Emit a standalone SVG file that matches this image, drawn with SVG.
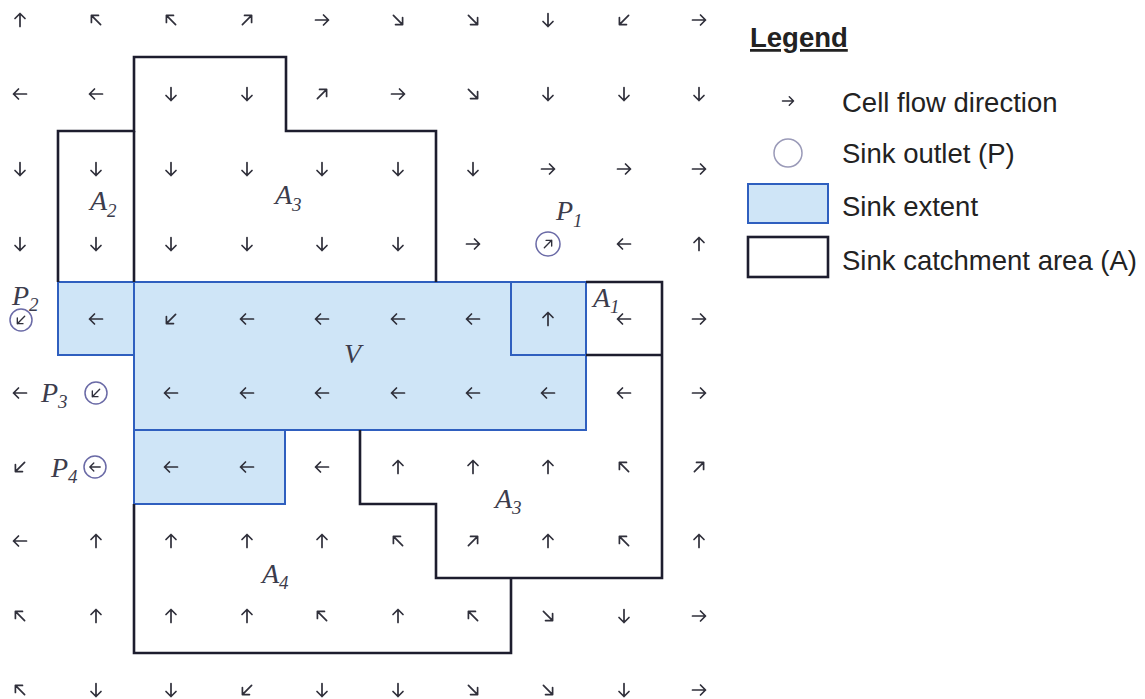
<svg xmlns="http://www.w3.org/2000/svg" width="1145" height="699" viewBox="0 0 1145 699">
<defs>
<style>
.ar{fill:none;stroke:#2f2f3a;stroke-width:1.7;stroke-linecap:round;stroke-linejoin:round}
.sink{fill:#cfe5f7;stroke:#2f5fbf;stroke-width:2}
.ca{fill:none;stroke:#1d1d2e;stroke-width:2.6;stroke-linejoin:miter}
.out{fill:none;stroke:#6a6aa6;stroke-width:1.5}
.lb{font-family:"Liberation Serif","Times New Roman",serif;font-style:italic;fill:#3c3c4c;font-size:28px}
.sb{font-size:19px}
.lg{font-family:"Liberation Sans",Arial,sans-serif;fill:#222;font-size:27.5px}
</style>
<path id="a" class="ar" d="M-6.5,0H6.5M1.5,-5L6.5,0L1.5,5"/>
</defs>
<rect width="1145" height="699" fill="#fff"/>

<g id="sinks">
<rect id="sink-A2" class="sink" x="58" y="282" width="76" height="73"/>
<rect id="sink-A3" class="sink" x="134" y="282" width="452" height="148"/>
<rect id="sink-A1" class="sink" x="511" y="282" width="75" height="73"/>
<rect id="sink-A4" class="sink" x="134" y="430" width="151" height="74"/>
</g>

<g id="catchments">
<path id="catch-A2-A3" class="ca" d="M58,282V131H134V57H286V131H436V282"/>
<path class="ca" d="M134,131V282"/>
<path id="catch-A1-A3" class="ca" d="M586,282H662V578H436V504H360V430"/>
<path class="ca" d="M586,355H662"/>
<path id="catch-A4" class="ca" d="M134,504V653H511V578"/>
</g>

<g id="arrows">
<use href="#a" transform="translate(20,20) rotate(270)"/>
<use href="#a" transform="translate(96,20) rotate(225)"/>
<use href="#a" transform="translate(171,20) rotate(225)"/>
<use href="#a" transform="translate(247,20) rotate(315)"/>
<use href="#a" transform="translate(322,20) rotate(0)"/>
<use href="#a" transform="translate(398,20) rotate(45)"/>
<use href="#a" transform="translate(473,20) rotate(45)"/>
<use href="#a" transform="translate(548,20) rotate(90)"/>
<use href="#a" transform="translate(624,20) rotate(135)"/>
<use href="#a" transform="translate(699,20) rotate(0)"/>

<use href="#a" transform="translate(20,94) rotate(180)"/>
<use href="#a" transform="translate(96,94) rotate(180)"/>
<use href="#a" transform="translate(171,94) rotate(90)"/>
<use href="#a" transform="translate(247,94) rotate(90)"/>
<use href="#a" transform="translate(322,94) rotate(315)"/>
<use href="#a" transform="translate(398,94) rotate(0)"/>
<use href="#a" transform="translate(473,94) rotate(45)"/>
<use href="#a" transform="translate(548,94) rotate(90)"/>
<use href="#a" transform="translate(624,94) rotate(90)"/>
<use href="#a" transform="translate(699,94) rotate(90)"/>

<use href="#a" transform="translate(20,169) rotate(90)"/>
<use href="#a" transform="translate(96,169) rotate(90)"/>
<use href="#a" transform="translate(171,169) rotate(90)"/>
<use href="#a" transform="translate(247,169) rotate(90)"/>
<use href="#a" transform="translate(322,169) rotate(90)"/>
<use href="#a" transform="translate(398,169) rotate(90)"/>
<use href="#a" transform="translate(473,169) rotate(90)"/>
<use href="#a" transform="translate(548,169) rotate(0)"/>
<use href="#a" transform="translate(624,169) rotate(0)"/>
<use href="#a" transform="translate(699,169) rotate(0)"/>

<use href="#a" transform="translate(20,244) rotate(90)"/>
<use href="#a" transform="translate(96,244) rotate(90)"/>
<use href="#a" transform="translate(171,244) rotate(90)"/>
<use href="#a" transform="translate(247,244) rotate(90)"/>
<use href="#a" transform="translate(322,244) rotate(90)"/>
<use href="#a" transform="translate(398,244) rotate(90)"/>
<use href="#a" transform="translate(473,244) rotate(0)"/>
<use href="#a" transform="translate(548,244) rotate(315) scale(0.8)"/>
<use href="#a" transform="translate(624,244) rotate(180)"/>
<use href="#a" transform="translate(699,244) rotate(270)"/>

<use href="#a" transform="translate(21,320) rotate(135) scale(0.8)"/>
<use href="#a" transform="translate(96,319) rotate(180)"/>
<use href="#a" transform="translate(171,319) rotate(135)"/>
<use href="#a" transform="translate(247,319) rotate(180)"/>
<use href="#a" transform="translate(322,319) rotate(180)"/>
<use href="#a" transform="translate(398,319) rotate(180)"/>
<use href="#a" transform="translate(473,319) rotate(180)"/>
<use href="#a" transform="translate(548,319) rotate(270)"/>
<use href="#a" transform="translate(624,319) rotate(180)"/>
<use href="#a" transform="translate(699,319) rotate(0)"/>

<use href="#a" transform="translate(20,393) rotate(180)"/>
<use href="#a" transform="translate(96,393) rotate(135) scale(0.8)"/>
<use href="#a" transform="translate(171,393) rotate(180)"/>
<use href="#a" transform="translate(247,393) rotate(180)"/>
<use href="#a" transform="translate(322,393) rotate(180)"/>
<use href="#a" transform="translate(398,393) rotate(180)"/>
<use href="#a" transform="translate(473,393) rotate(180)"/>
<use href="#a" transform="translate(548,393) rotate(180)"/>
<use href="#a" transform="translate(624,393) rotate(180)"/>
<use href="#a" transform="translate(699,393) rotate(0)"/>

<use href="#a" transform="translate(20,467) rotate(135)"/>
<use href="#a" transform="translate(95,467) rotate(180) scale(0.8)"/>
<use href="#a" transform="translate(171,467) rotate(180)"/>
<use href="#a" transform="translate(247,467) rotate(180)"/>
<use href="#a" transform="translate(322,467) rotate(180)"/>
<use href="#a" transform="translate(398,467) rotate(270)"/>
<use href="#a" transform="translate(473,467) rotate(270)"/>
<use href="#a" transform="translate(548,467) rotate(270)"/>
<use href="#a" transform="translate(624,467) rotate(225)"/>
<use href="#a" transform="translate(699,467) rotate(315)"/>

<use href="#a" transform="translate(20,541) rotate(180)"/>
<use href="#a" transform="translate(96,541) rotate(270)"/>
<use href="#a" transform="translate(171,541) rotate(270)"/>
<use href="#a" transform="translate(247,541) rotate(270)"/>
<use href="#a" transform="translate(322,541) rotate(270)"/>
<use href="#a" transform="translate(398,541) rotate(225)"/>
<use href="#a" transform="translate(473,541) rotate(315)"/>
<use href="#a" transform="translate(548,541) rotate(270)"/>
<use href="#a" transform="translate(624,541) rotate(225)"/>
<use href="#a" transform="translate(699,541) rotate(270)"/>

<use href="#a" transform="translate(20,616) rotate(225)"/>
<use href="#a" transform="translate(96,616) rotate(270)"/>
<use href="#a" transform="translate(171,616) rotate(270)"/>
<use href="#a" transform="translate(247,616) rotate(270)"/>
<use href="#a" transform="translate(322,616) rotate(225)"/>
<use href="#a" transform="translate(398,616) rotate(270)"/>
<use href="#a" transform="translate(473,616) rotate(225)"/>
<use href="#a" transform="translate(548,616) rotate(45)"/>
<use href="#a" transform="translate(624,616) rotate(90)"/>
<use href="#a" transform="translate(699,616) rotate(0)"/>

<use href="#a" transform="translate(20,690) rotate(225)"/>
<use href="#a" transform="translate(96,690) rotate(90)"/>
<use href="#a" transform="translate(171,690) rotate(90)"/>
<use href="#a" transform="translate(247,690) rotate(135)"/>
<use href="#a" transform="translate(322,690) rotate(90)"/>
<use href="#a" transform="translate(398,690) rotate(90)"/>
<use href="#a" transform="translate(473,690) rotate(45)"/>
<use href="#a" transform="translate(548,690) rotate(45)"/>
<use href="#a" transform="translate(624,690) rotate(90)"/>
<use href="#a" transform="translate(699,690) rotate(0)"/>
</g>

<g id="outlets">
<circle id="P1" class="out" cx="548" cy="244" r="12"/>
<circle id="P2" class="out" cx="21" cy="320" r="11"/>
<circle id="P3" class="out" cx="96" cy="393" r="11"/>
<circle id="P4" class="out" cx="95" cy="467" r="11"/>
</g>

<g id="labels">
<text class="lb" x="90" y="210">A<tspan class="sb" dy="7">2</tspan></text>
<text class="lb" x="275" y="204">A<tspan class="sb" dy="7">3</tspan></text>
<text class="lb" x="556" y="220">P<tspan class="sb" dy="7">1</tspan></text>
<text class="lb" x="12" y="305">P<tspan class="sb" dy="6">2</tspan></text>
<text class="lb" x="593" y="307">A<tspan class="sb" dy="6">1</tspan></text>
<text class="lb" x="344" y="363">V</text>
<text class="lb" x="41" y="402">P<tspan class="sb" dy="6">3</tspan></text>
<text class="lb" x="51" y="477">P<tspan class="sb" dy="6">4</tspan></text>
<text class="lb" x="495" y="508">A<tspan class="sb" dy="6">3</tspan></text>
<text class="lb" x="262" y="583">A<tspan class="sb" dy="6">4</tspan></text>
</g>

<g id="legend">
<text class="lg" x="750" y="47" font-weight="bold" font-size="28" text-decoration="underline">Legend</text>
<use href="#a" transform="translate(788,101) scale(0.85)"/>
<text class="lg" x="842" y="112">Cell flow direction</text>
<circle cx="788" cy="153" r="14" fill="none" stroke="#9a9ab8" stroke-width="1.5"/>
<text class="lg" x="842" y="163">Sink outlet (P)</text>
<rect class="sink" x="748" y="184" width="80" height="39"/>
<text class="lg" x="842" y="216">Sink extent</text>
<rect class="ca" x="748" y="237" width="80" height="40"/>
<text class="lg" x="842" y="270">Sink catchment area (A)</text>
</g>
</svg>
